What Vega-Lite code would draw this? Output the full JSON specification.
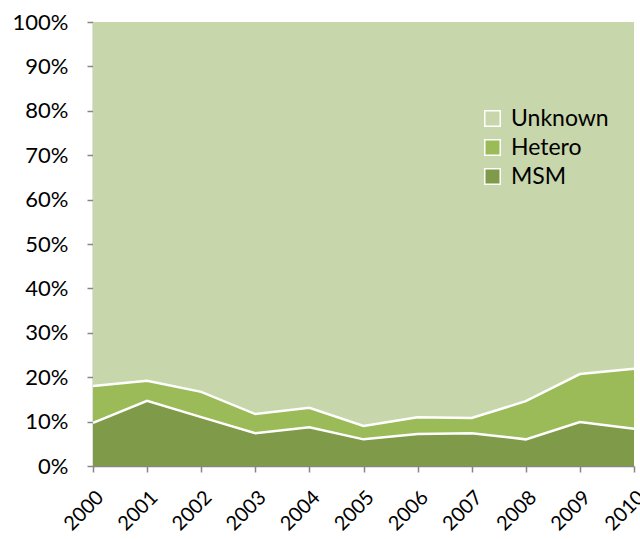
{
  "$schema": "https://vega.github.io/schema/vega-lite/v6.json",
  "width": 541,
  "height": 444,
  "autosize": {"type": "none"},
  "padding": {"left": 93, "top": 22, "right": 6, "bottom": 73},
  "background": "white",
  "config": {
    "view": {"stroke": null},
    "font": "Lato",
    "axis": {"grid": false, "domainColor": "#868686", "tickColor": "#868686", "labelColor": "#000000", "labelFont": "Lato", "labelFontSize": 22, "tickSize": 6, "domainWidth": 1.5, "tickWidth": 1.5, "title": null}
  },
  "data": {"values": [
    {"year": 2000, "group": "MSM", "pct": 0.097},
    {"year": 2001, "group": "MSM", "pct": 0.147},
    {"year": 2002, "group": "MSM", "pct": 0.110},
    {"year": 2003, "group": "MSM", "pct": 0.074},
    {"year": 2004, "group": "MSM", "pct": 0.087},
    {"year": 2005, "group": "MSM", "pct": 0.060},
    {"year": 2006, "group": "MSM", "pct": 0.072},
    {"year": 2007, "group": "MSM", "pct": 0.074},
    {"year": 2008, "group": "MSM", "pct": 0.060},
    {"year": 2009, "group": "MSM", "pct": 0.099},
    {"year": 2010, "group": "MSM", "pct": 0.084},
    {"year": 2000, "group": "Hetero", "pct": 0.083},
    {"year": 2001, "group": "Hetero", "pct": 0.045},
    {"year": 2002, "group": "Hetero", "pct": 0.057},
    {"year": 2003, "group": "Hetero", "pct": 0.043},
    {"year": 2004, "group": "Hetero", "pct": 0.044},
    {"year": 2005, "group": "Hetero", "pct": 0.030},
    {"year": 2006, "group": "Hetero", "pct": 0.038},
    {"year": 2007, "group": "Hetero", "pct": 0.034},
    {"year": 2008, "group": "Hetero", "pct": 0.086},
    {"year": 2009, "group": "Hetero", "pct": 0.108},
    {"year": 2010, "group": "Hetero", "pct": 0.135},
    {"year": 2000, "group": "Unknown", "pct": 0.820},
    {"year": 2001, "group": "Unknown", "pct": 0.808},
    {"year": 2002, "group": "Unknown", "pct": 0.833},
    {"year": 2003, "group": "Unknown", "pct": 0.883},
    {"year": 2004, "group": "Unknown", "pct": 0.869},
    {"year": 2005, "group": "Unknown", "pct": 0.910},
    {"year": 2006, "group": "Unknown", "pct": 0.890},
    {"year": 2007, "group": "Unknown", "pct": 0.892},
    {"year": 2008, "group": "Unknown", "pct": 0.854},
    {"year": 2009, "group": "Unknown", "pct": 0.793},
    {"year": 2010, "group": "Unknown", "pct": 0.781}
  ]},
  "transform": [
    {"calculate": "indexof(['MSM','Hetero','Unknown'], datum.group)", "as": "stackOrder"}
  ],
  "encoding": {
    "x": {
      "field": "year", "type": "quantitative",
      "scale": {"domain": [2000, 2010], "nice": false, "zero": false},
      "axis": {"values": [2000,2001,2002,2003,2004,2005,2006,2007,2008,2009,2010], "format": "d", "labelAngle": -45, "labelAlign": "right", "labelBaseline": "top", "labelPadding": 15, "labelFontSize": 20, "labelFlush": false, "labelOverlap": false, "labelBound": false}
    },
    "y": {
      "field": "pct", "type": "quantitative", "stack": "zero",
      "scale": {"domain": [0, 1], "nice": false},
      "axis": {"values": [0,0.1,0.2,0.3,0.4,0.5,0.6,0.7,0.8,0.9,1], "format": ".0%", "labelPadding": 19, "labelFlush": false}
    },
    "order": {"field": "stackOrder", "type": "quantitative"}
  },
  "layer": [
    {
      "mark": {"type": "area", "opacity": 1},
      "encoding": {
        "color": {
          "field": "group", "type": "nominal",
          "scale": {"domain": ["Unknown", "Hetero", "MSM"], "range": ["#C7D6AB", "#9BBB59", "#7F9A48"]},
          "legend": {
            "orient": "none", "legendX": 388, "legendY": 85, "title": null,
            "symbolType": "square", "symbolSize": 240, "symbolStrokeColor": "white", "symbolStrokeWidth": 1.5,
            "labelFont": "Lato", "labelFontSize": 23, "labelColor": "#000000", "rowPadding": 5, "labelOffset": 7
          }
        }
      }
    },
    {
      "transform": [{"filter": "datum.group != 'Unknown'"}],
      "mark": {"type": "line", "color": "white", "strokeWidth": 2.5},
      "encoding": {"detail": {"field": "group", "type": "nominal"}}
    }
  ]
}
